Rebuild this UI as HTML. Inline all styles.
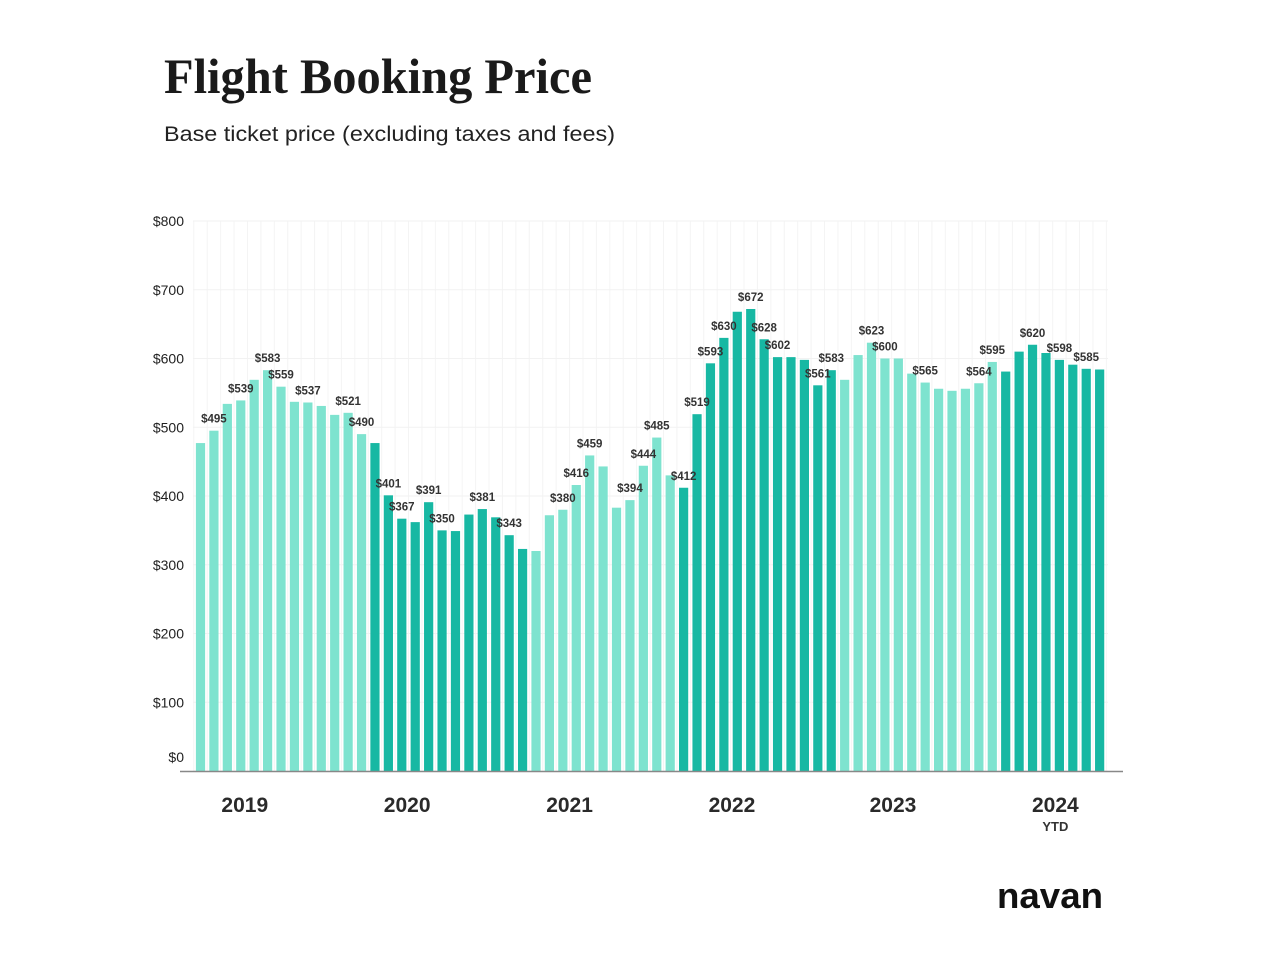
<!DOCTYPE html>
<html><head><meta charset="utf-8"><style>
body{margin:0;background:#fff;width:1268px;height:964px;overflow:hidden;font-family:"Liberation Sans",sans-serif}
</style></head><body>
<svg width="1268" height="964" id="chart">
<text x="164" y="93" font-family="Liberation Serif,serif" font-weight="bold" font-size="50" fill="#1a1a1a" textLength="428" lengthAdjust="spacingAndGlyphs">Flight Booking Price</text>
<text x="164" y="141" font-size="21" fill="#222" textLength="451" lengthAdjust="spacingAndGlyphs">Base ticket price (excluding taxes and fees)</text>
<g id="grid"></g><g id="bars"></g><g id="labels"></g><g id="axis"></g>
<text x="1050" y="908" text-anchor="middle" font-size="36" font-weight="bold" fill="#111" textLength="106" lengthAdjust="spacingAndGlyphs">navan</text>
</svg>
<script>
const values=[477,495,534,539,569,583,559,537,536,531,518,521,490,477,401,367,362,391,350,349,373,381,369,343,323,320,372,380,416,459,443,383,394,444,485,430,412,519,593,630,668,672,628,602,602,598,561,583,569,605,623,600,600,578,565,556,553,556,564,595,581,610,620,608,598,591,585,584];
const darkBars=[13,14,15,16,17,18,19,20,21,22,23,24,36,37,38,39,40,41,42,43,44,45,46,47,60,61,62,63,64,65,66,67];
const labeledBars=[1,3,5,6,8,11,12,14,15,17,18,21,23,27,28,29,32,33,34,36,37,38,39,41,42,43,46,47,50,51,54,58,59,62,64,66];
const labelValues=[495,539,583,559,537,521,490,401,367,391,350,381,343,380,416,459,394,444,485,412,519,593,630,672,628,602,561,583,623,600,565,564,595,620,598,585];
const yTicks=[0,100,200,300,400,500,600,700,800];
const years=["2019","2020","2021","2022","2023","2024"];
const yearPos=[3.3,15.4,27.5,39.6,51.6,63.7];
const NS="http://www.w3.org/2000/svg";
const x0=200.5,pitch=13.42,bw=9.2;
const X=i=>x0+i*pitch;
const Y=v=>771-v*0.6875;
function mk(t,a,p){const e=document.createElementNS(NS,t);for(const k in a)e.setAttribute(k,a[k]);p.appendChild(e);return e;}
const g=document.getElementById('grid'),b=document.getElementById('bars'),l=document.getElementById('labels'),ax=document.getElementById('axis');
for(let i=0;i<=values.length;i++){const ln=mk('line',{x1:X(i)-pitch/2,x2:X(i)-pitch/2,y1:221,y2:771,stroke:'#f4f4f4','stroke-width':1},g);

}
yTicks.forEach(v=>{const ln=mk('line',{x1:193,x2:1108,y1:Y(v),y2:Y(v),stroke:'#f2f2f2','stroke-width':1},g);


const t=mk('text',{x:184,y:Y(v)+(v===0?-9:5),'text-anchor':'end','font-size':14,fill:'#222'},ax);t.textContent='$'+v;

});
values.forEach((v,i)=>{const r=mk('rect',{x:X(i)-bw/2,y:Y(v),width:bw,height:771-Y(v),fill:darkBars.includes(i)?'#17b8a3':'#7ee3cf'},b);

});
labeledBars.forEach((i,k)=>{const t=mk('text',{x:X(i),y:Y(values[i])-8,'text-anchor':'middle','font-size':11.5,'font-weight':'bold',fill:'#333'},l);t.textContent='$'+labelValues[k];

});
const base=mk('line',{x1:180,x2:1123,y1:771.5,y2:771.5,stroke:'#888','stroke-width':1.5},ax);


years.forEach((y,k)=>{const t=mk('text',{x:X(yearPos[k]),y:812,'text-anchor':'middle','font-size':21,'font-weight':'bold',fill:'#2a2a2a'},ax);t.textContent=y;

});
const ytd=mk('text',{x:X(yearPos[5]),y:831,'text-anchor':'middle','font-size':13,'font-weight':'bold',fill:'#333'},ax);ytd.textContent='YTD';


</script>
</body></html>
